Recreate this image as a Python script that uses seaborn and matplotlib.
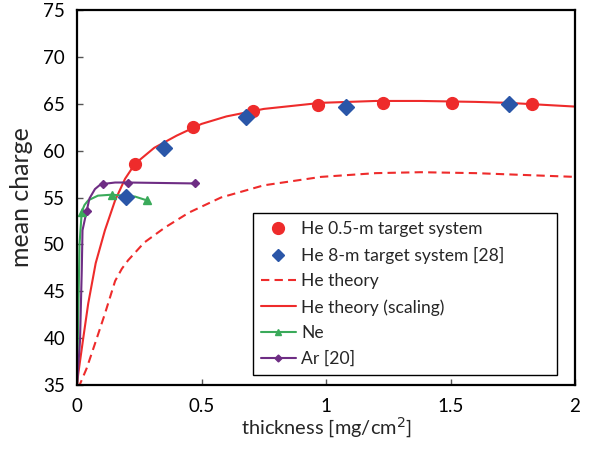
import numpy as np
import pandas as pd
import seaborn as sns
import matplotlib
matplotlib.use("Agg")
import matplotlib.pyplot as plt
from matplotlib.lines import Line2D

# ---- data ----
he05_x = [0.233, 0.466, 0.707, 0.968, 1.229, 1.506, 1.827]
he05_y = [58.6, 62.5, 64.2, 64.9, 65.1, 65.1, 65.0]

he8_x = [0.197, 0.349, 0.679, 1.080, 1.735]
he8_y = [55.1, 60.3, 63.6, 64.7, 65.0]

theory_x = [0.0, 0.012, 0.039, 0.072, 0.112, 0.153, 0.18, 0.205, 0.27, 0.353,
            0.45, 0.578, 0.75, 0.98, 1.2, 1.38, 1.6, 1.8, 2.0]
theory_y = [34.8, 35.1, 36.8, 39.4, 42.6, 46.1, 47.4, 48.3, 50.2, 51.8,
            53.4, 55.0, 56.3, 57.2, 57.6, 57.7, 57.6, 57.4, 57.2]

scaling_x = [0.0, 0.005, 0.025, 0.045, 0.075, 0.112, 0.153, 0.193, 0.233, 0.31,
             0.4, 0.5, 0.6, 0.75, 0.98, 1.2, 1.38, 1.6, 1.73, 2.0]
scaling_y = [35.0, 36.2, 40.0, 43.7, 48.0, 51.5, 54.7, 57.0, 58.6, 60.3,
             61.6, 62.85, 63.65, 64.45, 65.1, 65.3, 65.3, 65.2, 65.1, 64.7]

ne_line_x = [0.0, 0.006, 0.01, 0.019, 0.03, 0.045, 0.084, 0.139, 0.233, 0.28]
ne_line_y = [35.0, 44.0, 50.0, 53.5, 54.2, 54.7, 55.2, 55.3, 55.1, 54.7]
ne_x = [0.019, 0.139, 0.28]
ne_y = [53.5, 55.3, 54.7]

ar_line_x = [0.0, 0.012, 0.019, 0.022, 0.039, 0.05, 0.072, 0.09, 0.106, 0.153,
             0.204, 0.475]
ar_line_y = [35.0, 39.7, 47.2, 51.5, 53.6, 54.9, 55.9, 56.3, 56.45, 56.6,
             56.6, 56.5]
ar_x = [0.039, 0.106, 0.204, 0.475]
ar_y = [53.6, 56.4, 56.6, 56.5]

labels = ["He 0.5-m target system", "He 8-m target system [28]", "He theory",
          "He theory (scaling)", "Ne", "Ar [20]"]
x_ticks = [0, 0.5, 1, 1.5, 2]
x_tick_labels = ["0", "0.5", "1", "1.5", "2"]
y_ticks = [35, 40, 45, 50, 55, 60, 65, 70, 75]

# ---- style ----
sns.set_theme(style="white")
plt.rcParams["font.family"] = ["Lato", "DejaVu Sans"]
plt.rcParams["font.size"] = 12

RED = "#EE2B2B"
BLUE = "#2A56A8"
GREEN = "#3AAA5A"
PURPLE = "#6E2D84"

fig = plt.figure(figsize=(5.98, 4.51), dpi=100)
ax = fig.add_axes([0.1288, 0.1463, 0.8328, 0.8315])

sns.lineplot(x=theory_x, y=theory_y, ax=ax, color=RED, lw=1.5, sort=False,
             estimator=None, linestyle=(0, (4, 2.5)))
sns.lineplot(x=scaling_x, y=scaling_y, ax=ax, color=RED, lw=1.5, sort=False,
             estimator=None)
sns.lineplot(x=ne_line_x, y=ne_line_y, ax=ax, color=GREEN, lw=1.5, sort=False,
             estimator=None)
sns.lineplot(x=ar_line_x, y=ar_line_y, ax=ax, color=PURPLE, lw=1.5, sort=False,
             estimator=None)
ax.plot(ne_x, ne_y, ls="none", marker="^", ms=6, color=GREEN, mec=GREEN)
ax.plot(ar_x, ar_y, ls="none", marker="D", ms=4.5, color=PURPLE, mec=PURPLE)
ax.plot(he05_x, he05_y, ls="none", marker="o", ms=8.5, color=RED, mec=RED)
ax.plot(he8_x, he8_y, ls="none", marker="D", ms=8.5, color=BLUE, mec=BLUE)

ax.set_xlim(0, 2)
ax.set_ylim(35, 75)
ax.set_xticks(x_ticks)
ax.set_xticklabels(x_tick_labels)
ax.set_yticks(y_ticks)
ax.tick_params(axis="both", direction="in", length=4, width=1, color="#555555",
               labelsize=13.5, labelcolor="black")
ax.tick_params(axis="x", pad=9)
ax.tick_params(axis="y", pad=8.5)
ax.tick_params(top=False, right=False, left=True, bottom=True)
for s in ax.spines.values():
    s.set_color("black")
    s.set_linewidth(1.6)
    s.set_visible(True)

ax.set_xlabel("thickness [mg/cm$^2$]", fontsize=14.4, labelpad=1)
ax.set_ylabel("mean charge", fontsize=18, labelpad=7.5)

handles = [
    Line2D([], [], ls="none", marker="o", ms=8.5, color=RED),
    Line2D([], [], ls="none", marker="D", ms=6.5, color=BLUE),
    Line2D([], [], color=RED, lw=1.5, linestyle=(0, (4, 2.5))),
    Line2D([], [], color=RED, lw=1.5),
    Line2D([], [], color=GREEN, lw=1.5, marker="^", ms=5),
    Line2D([], [], color=PURPLE, lw=1.5, marker="D", ms=3.5),
]
leg = ax.legend(handles, labels, loc="lower left",
                bbox_to_anchor=(0.353, 0.027, 0.611, 0.448), mode="expand",
                fontsize=12.6, frameon=True, fancybox=False, edgecolor="black",
                framealpha=1, handlelength=2.0, handletextpad=0.3,
                labelspacing=0.55, borderpad=0.45, borderaxespad=0)
leg.get_frame().set_linewidth(1.0)

fig.savefig("out.png", dpi=100)
